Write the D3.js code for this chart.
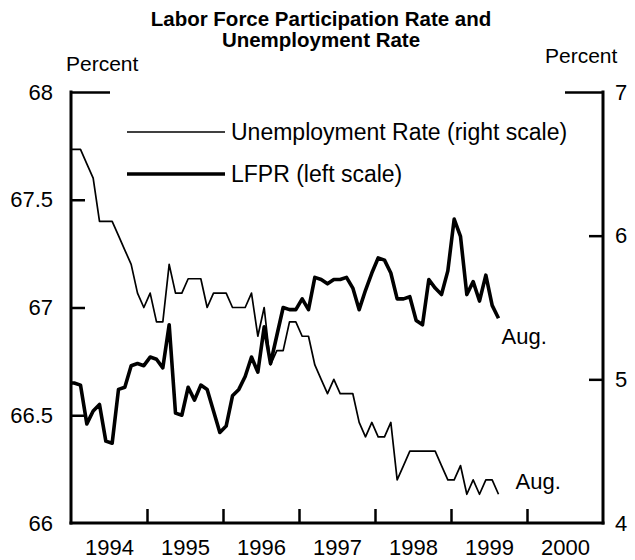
<!DOCTYPE html>
<html>
<head>
<meta charset="utf-8">
<script src="https://cdn.jsdelivr.net/npm/d3@7"></script>
<style>
  html, body { margin: 0; padding: 0; background: #fff; }
  svg { display: block; font-family: "Liberation Sans", Arial, Helvetica, sans-serif; }
</style>
</head>
<body>
<svg id="chart" width="635" height="560"></svg>
<script>
// ---- DATA (monthly, Dec 1993 through Aug 1999) ----
const startYear = 1993;
const startMonth = 11; // December (0-based)
const unemploymentRate = [
  6.6,
  6.6, 6.6, 6.5, 6.4, 6.1, 6.1, 6.1, 6.0, 5.9, 5.8, 5.6, 5.5,
  5.6, 5.4, 5.4, 5.8, 5.6, 5.6, 5.7, 5.7, 5.7, 5.5, 5.6, 5.6,
  5.6, 5.5, 5.5, 5.5, 5.6, 5.3, 5.5, 5.1, 5.2, 5.2, 5.4, 5.4,
  5.3, 5.3, 5.1, 5.0, 4.9, 5.0, 4.9, 4.9, 4.9, 4.7, 4.6, 4.7,
  4.6, 4.6, 4.7, 4.3, 4.4, 4.5, 4.5, 4.5, 4.5, 4.5, 4.4, 4.3,
  4.3, 4.4, 4.2, 4.3, 4.2, 4.3, 4.3, 4.2
];
const lfpr = [
  66.65,
  66.65, 66.64, 66.46, 66.52, 66.55, 66.38, 66.37, 66.62, 66.63, 66.73, 66.74, 66.73,
  66.77, 66.76, 66.72, 66.92, 66.51, 66.50, 66.63, 66.57, 66.64, 66.62, 66.52, 66.42,
  66.45, 66.59, 66.62, 66.68, 66.77, 66.70, 66.91, 66.74, 66.87, 67.00, 66.99, 66.99,
  67.04, 66.99, 67.14, 67.13, 67.11, 67.13, 67.13, 67.14, 67.09, 66.99, 67.08, 67.16,
  67.23, 67.22, 67.16, 67.04, 67.04, 67.05, 66.94, 66.92, 67.13, 67.09, 67.06, 67.17,
  67.41, 67.33, 67.06, 67.12, 67.03, 67.15, 67.01, 66.95
];
const yearLabels = [1994, 1995, 1996, 1997, 1998, 1999, 2000];
const yearTicks = [1995, 1996, 1997, 1998, 1999, 2000];
const leftTicks = [66, 66.5, 67, 67.5, 68];
const rightTicks = [4, 5, 6, 7];
const titleLines = ["Labor Force Participation Rate and", "Unemployment Rate"];
const legendLabels = ["Unemployment Rate (right scale)", "LFPR (left scale)"];
const endLabel = "Aug.";

// ---- LAYOUT ----
const L = 71, R = 603, T = 92, B = 523;
const svg = d3.select("#chart");

const x = d3.scaleLinear().domain([1994, 2001]).range([L, R]);
const yL = d3.scaleLinear().domain([66, 68]).range([B, T]);
const yR = d3.scaleLinear().domain([4, 7]).range([B, T]);
const tOf = i => startYear + (startMonth + i + 0.5) / 12;

svg.append("clipPath").attr("id", "plotclip")
  .append("rect").attr("x", L).attr("y", T - 10).attr("width", R - L).attr("height", B - T + 20);

// title (two lines)
svg.append("g").selectAll("text").data(titleLines).join("text")
  .attr("text-anchor", "middle")
  .attr("font-size", 20.5).attr("font-weight", "bold")
  .attr("x", 321).attr("y", (d, i) => 26 + i * 21)
  .text(d => d);

// Percent labels
svg.append("text").attr("x", 66).attr("y", 71).attr("font-size", 21).text("Percent");
svg.append("text").attr("x", 545).attr("y", 63).attr("font-size", 21).text("Percent");

// left axis
const gL = svg.append("g").attr("transform", `translate(${L},0)`)
  .call(d3.axisLeft(yL).tickValues(leftTicks).tickSizeInner(-14).tickSizeOuter(0).tickPadding(18)
    .tickFormat(d => d3.format("~g")(d)));
gL.select(".domain").attr("stroke-width", 3).attr("d", `M0,${T - 1.5}V${B + 1.5}`);
gL.selectAll(".tick line").attr("stroke-width", 2.5)
  .attr("x2", d => d === 68 ? 39 : (d === 66 ? 0 : 14));
gL.selectAll(".tick text").attr("font-size", 22).attr("fill", "#000")
  .style("font-family", "Liberation Sans, Arial, sans-serif");

// right axis
const gR = svg.append("g").attr("transform", `translate(${R},0)`)
  .call(d3.axisRight(yR).tickValues(rightTicks).tickSizeInner(-14).tickSizeOuter(0).tickPadding(12)
    .tickFormat(d3.format("d")));
gR.select(".domain").attr("stroke-width", 3).attr("d", `M0,${T - 1.5}V${B + 1.5}`);
gR.selectAll(".tick line").attr("stroke-width", 2.5)
  .attr("x2", d => d === 7 ? -38 : (d === 4 ? 0 : -14));
gR.selectAll(".tick text").attr("font-size", 22).attr("fill", "#000")
  .style("font-family", "Liberation Sans, Arial, sans-serif");

// bottom axis (ticks)
const gB = svg.append("g").attr("transform", `translate(0,${B})`)
  .call(d3.axisBottom(x).tickValues(yearTicks).tickSizeInner(-14).tickSizeOuter(0).tickFormat(""));
gB.select(".domain").attr("stroke-width", 3).attr("d", `M${L - 1.5},0H${R + 1.5}`);
gB.selectAll(".tick line").attr("stroke-width", 2.5);

// bottom axis (labels at mid-year)
const gB2 = svg.append("g").attr("transform", `translate(0,${B})`)
  .call(d3.axisBottom(x).tickValues(yearLabels.map(y => y + 0.5)).tickSize(0).tickPadding(16)
    .tickFormat(d => String(Math.floor(d))));
gB2.select(".domain").remove();
gB2.selectAll(".tick text").attr("font-size", 22).attr("fill", "#000")
  .style("font-family", "Liberation Sans, Arial, sans-serif");

// lines
const lineU = d3.line().x((d, i) => x(tOf(i))).y(d => yR(d));
const lineP = d3.line().x((d, i) => x(tOf(i))).y(d => yL(d));
const plot = svg.append("g").attr("clip-path", "url(#plotclip)");
plot.append("path").datum(unemploymentRate).attr("d", lineU)
  .attr("fill", "none").attr("stroke", "#000").attr("stroke-width", 1.7).attr("stroke-linejoin", "round");
plot.append("path").datum(lfpr).attr("d", lineP)
  .attr("fill", "none").attr("stroke", "#000").attr("stroke-width", 3.6).attr("stroke-linejoin", "round");

// legend
const leg = svg.append("g");
[[132, 1.7], [174, 3.6]].forEach(([yy, w], i) => {
  leg.append("line").attr("x1", 127).attr("x2", 225).attr("y1", yy).attr("y2", yy)
    .attr("stroke", "#000").attr("stroke-width", w);
  leg.append("text").attr("x", 231).attr("y", yy + 8).attr("font-size", 23).text(legendLabels[i]);
});

// end labels
const last = lfpr.length - 1;
svg.append("text").attr("x", x(tOf(last)) + 3).attr("y", yL(lfpr[last]) + 26)
  .attr("font-size", 22).text(endLabel);
svg.append("text").attr("x", x(tOf(last)) + 17).attr("y", yR(unemploymentRate[last]) - 5)
  .attr("font-size", 22).text(endLabel);
</script>
</body>
</html>
